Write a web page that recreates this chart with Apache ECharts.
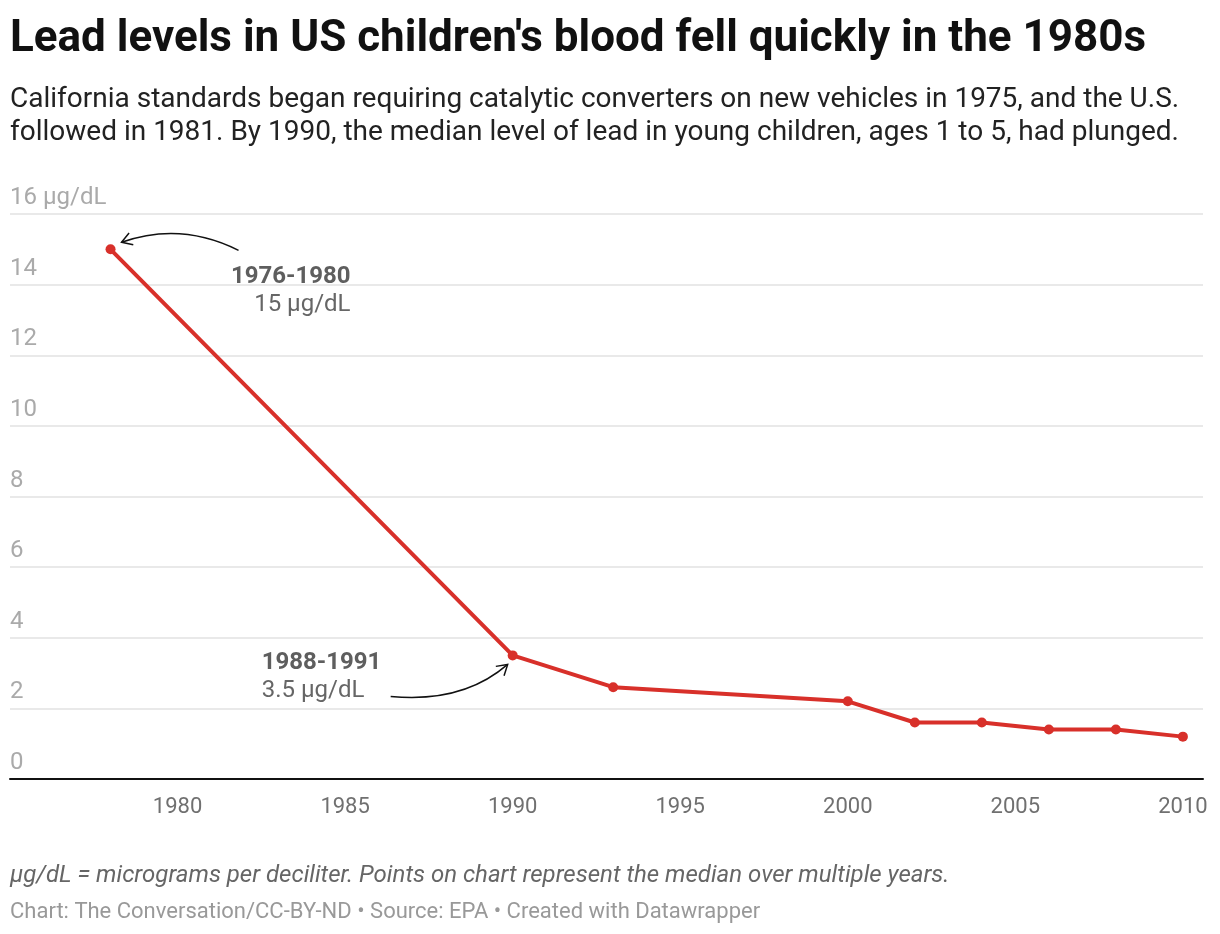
<!DOCTYPE html>
<html>
<head>
<meta charset="utf-8">
<script src="https://cdn.jsdelivr.net/npm/echarts@6/dist/echarts.min.js"></script>
<style>
html,body{margin:0;padding:0;background:#fff;}
#chart{width:1220px;height:934px;}
</style>
</head>
<body>
<div id="chart"></div>
<script>
// ---- data ----
const years = [1978, 1990, 1993, 2000, 2002, 2004, 2006, 2008, 2010];
const leadLevels = [15, 3.5, 2.6, 2.2, 1.6, 1.6, 1.4, 1.4, 1.2];
const xTickLabels = [1980, 1985, 1990, 1995, 2000, 2005, 2010];
const yTickLabels = [0, 2, 4, 6, 8, 10, 12, 14, 16];
const annotations = [
  { pointIndex: 0, bold: '1976-1980', value: '15 µg/dL' },
  { pointIndex: 1, bold: '1988-1991', value: '3.5 µg/dL' }
];

const FONT = 'Roboto, "Noto Sans", sans-serif';
const chart = echarts.init(document.getElementById('chart'), null, { renderer: 'canvas' });

const option = {
  backgroundColor: '#ffffff',
  animation: false,
  title: [
    { text: "Lead levels in US children's blood fell quickly in the 1980s", left: 10, top: 14, padding: 0,
      textStyle: { fontFamily: FONT, fontSize: 44, fontWeight: 'bold', color: '#111', lineHeight: 52 } },
    { text: 'California standards began requiring catalytic converters on new vehicles in 1975, and the U.S.\nfollowed in 1981. By 1990, the median level of lead in young children, ages 1 to 5, had plunged.',
      left: 10, top: 83, padding: 0,
      textStyle: { fontFamily: FONT, fontSize: 28, fontWeight: 'normal', color: '#222', lineHeight: 33 } },
    { text: 'µg/dL = micrograms per deciliter. Points on chart represent the median over multiple years.',
      left: 10, top: 862, padding: 0,
      textStyle: { fontFamily: FONT, fontSize: 24, fontWeight: 'normal', fontStyle: 'italic', color: '#666', lineHeight: 28 } },
    { text: 'Chart: The Conversation/CC-BY-ND • Source: EPA • Created with Datawrapper',
      left: 10, top: 899, padding: 0,
      textStyle: { fontFamily: FONT, fontSize: 22, fontWeight: 'normal', color: '#999', lineHeight: 26 } }
  ],
  grid: { left: 10, right: 17, top: 214, bottom: 155, containLabel: false },
  xAxis: {
    type: 'value', min: 1975, max: 2010.6, interval: 5,
    axisLine: { show: true, onZero: false, lineStyle: { color: '#111', width: 2 } },
    axisTick: { show: false },
    splitLine: { show: false },
    axisLabel: {
      margin: 17, color: '#707070', fontFamily: FONT, fontSize: 22,
      formatter: v => (xTickLabels.indexOf(v) >= 0 ? String(v) : '')
    }
  },
  yAxis: {
    type: 'value', min: 0, max: 16, interval: 2,
    axisLine: { show: false }, axisTick: { show: false },
    splitLine: { show: true, lineStyle: { color: '#e2e2e2', width: 1.5 } },
    axisLabel: {
      inside: true, align: 'left', verticalAlign: 'bottom', padding: [0, 0, 4, 0], margin: 0,
      color: '#aaaaaa', fontFamily: FONT, fontSize: 24,
      formatter: v => (yTickLabels.indexOf(v) < 0 ? '' : (v === 16 ? '16 µg/dL' : String(v)))
    }
  },
  series: [{
    type: 'line',
    data: years.map((y, i) => [y, leadLevels[i]]),
    symbol: 'circle', symbolSize: 10,
    lineStyle: { color: '#d8302a', width: 4 },
    itemStyle: { color: '#d8302a' },
    z: 5
  }]
};
chart.setOption(option);

// ---- annotations anchored to the data points ----
function arrowHead(tip, from, len, ang) {
  const a = Math.atan2(from[1] - tip[1], from[0] - tip[0]);
  return [
    [tip[0] + len * Math.cos(a + ang), tip[1] + len * Math.sin(a + ang)],
    tip,
    [tip[0] + len * Math.cos(a - ang), tip[1] + len * Math.sin(a - ang)]
  ];
}
const p0 = chart.convertToPixel({ gridIndex: 0 }, [years[0], leadLevels[0]]);
const p1 = chart.convertToPixel({ gridIndex: 0 }, [years[1], leadLevels[1]]);
const graphics = [];
const boldStyle = { fontFamily: FONT, fontSize: 24, fontWeight: 'bold', fill: '#5e5e5e' };
const normStyle = { fontFamily: FONT, fontSize: 24, fontWeight: 'normal', fill: '#666' };

// annotation 1
{
  const tip = [p0[0] + 11, p0[1] - 7];
  const start = [p0[0] + 128, p0[1] + 1];
  const cp = [p0[0] + 70, p0[1] - 28];
  graphics.push({ type: 'bezierCurve', shape: { x1: start[0], y1: start[1], x2: tip[0], y2: tip[1], cpx1: cp[0], cpy1: cp[1] },
    style: { stroke: '#111', lineWidth: 1.5, fill: null }, z: 10 });
  graphics.push({ type: 'polyline', shape: { points: arrowHead(tip, cp, 12, 0.55) }, style: { stroke: '#111', lineWidth: 1.5, fill: null }, z: 10 });
  graphics.push({ type: 'text', x: p0[0] + 240, y: p0[1] + 28, style: Object.assign({ text: annotations[0].bold, align: 'right', verticalAlign: 'middle' }, boldStyle), z: 10 });
  graphics.push({ type: 'text', x: p0[0] + 240, y: p0[1] + 56, style: Object.assign({ text: annotations[0].value, align: 'right', verticalAlign: 'middle' }, normStyle), z: 10 });
}
// annotation 2
{
  const tip = [p1[0] - 5, p1[1] + 9];
  const start = [p1[0] - 122, p1[1] + 41];
  const cp = [p1[0] - 50, p1[1] + 48];
  graphics.push({ type: 'bezierCurve', shape: { x1: start[0], y1: start[1], x2: tip[0], y2: tip[1], cpx1: cp[0], cpy1: cp[1] },
    style: { stroke: '#111', lineWidth: 1.5, fill: null }, z: 10 });
  graphics.push({ type: 'polyline', shape: { points: arrowHead(tip, cp, 12, 0.55) }, style: { stroke: '#111', lineWidth: 1.5, fill: null }, z: 10 });
  graphics.push({ type: 'text', x: p1[0] - 251, y: p1[1] + 8, style: Object.assign({ text: annotations[1].bold, align: 'left', verticalAlign: 'middle' }, boldStyle), z: 10 });
  graphics.push({ type: 'text', x: p1[0] - 251, y: p1[1] + 36, style: Object.assign({ text: annotations[1].value, align: 'left', verticalAlign: 'middle' }, normStyle), z: 10 });
}
chart.setOption({ graphic: graphics });
</script>
</body>
</html>
